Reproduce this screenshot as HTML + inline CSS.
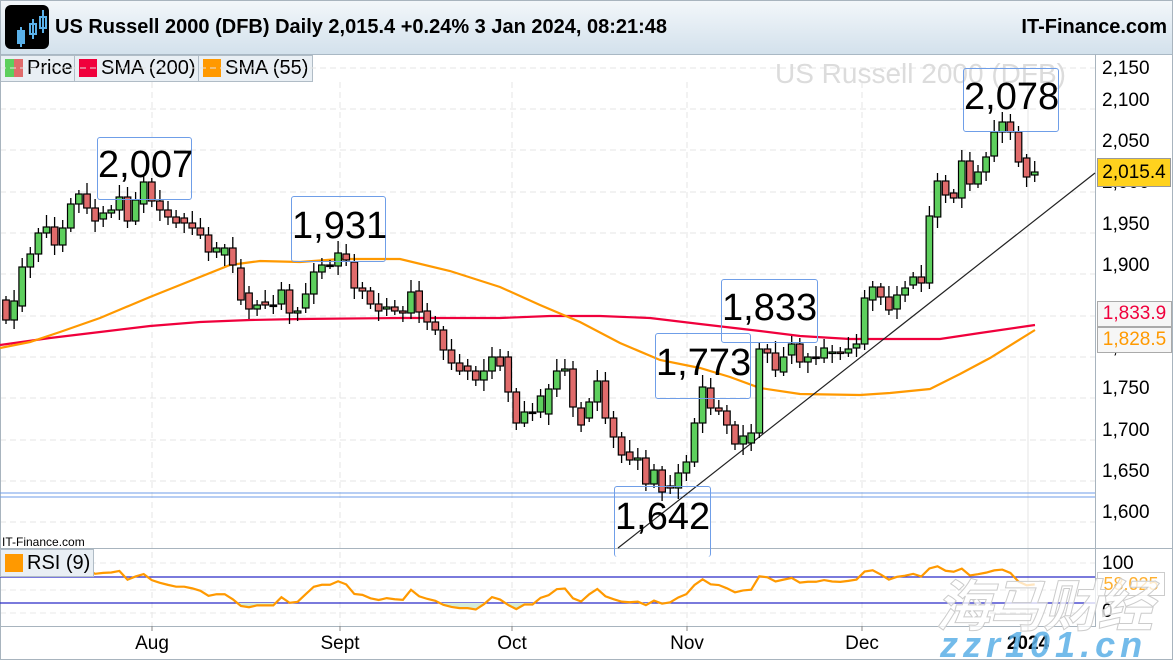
<!DOCTYPE html>
<html><head><meta charset="utf-8"><style>
body{margin:0;width:1173px;height:660px;overflow:hidden;background:#fff;font-family:"Liberation Sans",sans-serif;position:relative}
.hdr{position:absolute;left:0;top:0;width:1173px;height:54px;background:linear-gradient(#f3f7fa,#d3e1ec);border-bottom:1px solid #a9b8c4}
.lg{position:absolute;top:55px;height:25px;border:1px solid #b0bcc6;background:#e9eff4;font-size:20px;line-height:25px;color:#000}
.sw{display:inline-block;width:18px;height:18px;vertical-align:-3px;margin:0 4px 0 4px}
.box{position:absolute;border:1px solid #6f9ee8;border-radius:3px;font-size:38px;text-align:center;color:#000}
.ax{position:absolute;left:1102px;font-size:19px;color:#000}
.xl{position:absolute;top:633px;font-size:19px;transform:translateX(-50%)}
</style></head><body>
<div class="hdr">
 <div style="position:absolute;left:5px;top:5px;width:44px;height:44px;background:#000;border-radius:6px">
  <svg width="44" height="44"><g stroke="#5ab0e8" fill="none" stroke-width="2"><line x1="16" y1="22" x2="16" y2="42"/><rect x="13" y="26" width="6" height="12" fill="#5ab0e8"/><line x1="28" y1="14" x2="28" y2="34"/><rect x="25" y="19" width="6" height="10"/><line x1="38" y1="5" x2="38" y2="28"/><rect x="35" y="12" width="6" height="11"/></g></svg>
 </div>
 <div style="position:absolute;left:55px;top:16px;font-size:20px;font-weight:bold">US Russell 2000 (DFB) Daily 2,015.4 +0.24% 3 Jan 2024, 08:21:48</div>
 <div style="position:absolute;right:6px;top:16px;font-size:20px;font-weight:bold">IT-Finance.com</div>
</div>
<div class="lg" style="left:0;width:73px"><span class="sw" style="background:linear-gradient(90deg,#5dcf5d 50%,#e06b6b 50%)"></span>Price</div>
<div class="lg" style="left:74px;width:123px"><span class="sw" style="background:#f0003c"></span>SMA (200)</div>
<div class="lg" style="left:198px;width:113px"><span class="sw" style="background:#ff9900"></span>SMA (55)</div>

<svg id="ch" width="1173" height="660" style="position:absolute;left:0;top:0"></svg>

<div style="position:absolute;left:775px;top:58px;font-size:28px;color:#dcdcdc">US Russell 2000 (DFB)</div>
<div class="box" style="left:97px;top:137px;width:93px;height:61px;line-height:55px">2,007</div>
<div class="box" style="left:291px;top:196px;width:93px;height:64px;line-height:58px">1,931</div>
<div class="box" style="left:655px;top:333px;width:94px;height:64px;line-height:58px">1,773</div>
<div class="box" style="left:721px;top:279px;width:95px;height:62px;line-height:56px">1,833</div>
<div class="box" style="left:614px;top:486px;width:95px;height:70px;line-height:60px;border-bottom:none">1,642</div>
<div class="box" style="left:963px;top:68px;width:94px;height:62px;line-height:56px">2,078</div>

<div class="ax" style="top:58px">2,150</div><div class="ax" style="top:90px">2,100</div><div class="ax" style="top:131px">2,050</div>
<div class="ax" style="top:172px">2,000</div><div class="ax" style="top:214px">1,950</div><div class="ax" style="top:255px">1,900</div>
<div class="ax" style="top:337px">1,800</div><div class="ax" style="top:378px">1,750</div><div class="ax" style="top:420px">1,700</div>
<div class="ax" style="top:461px">1,650</div><div class="ax" style="top:502px">1,600</div>
<div style="position:absolute;left:1097px;top:158px;width:72px;height:27px;background:#ffd21e;border:1px solid #999;font-size:19px;line-height:27px;text-align:center">2,015.4</div>
<div style="position:absolute;left:1097px;top:301px;width:73px;height:24px;background:#f6f6f6;border:1px solid #aaa;font-size:19px;line-height:24px;text-align:center;color:#f0003c">1,833.9</div>
<div style="position:absolute;left:1097px;top:327px;width:73px;height:24px;background:#f6f6f6;border:1px solid #aaa;font-size:19px;line-height:24px;text-align:center;color:#ff9900">1,828.5</div>

<div style="position:absolute;left:2px;top:535px;font-size:12px">IT-Finance.com</div>
<div class="lg" style="left:0;top:549px;width:92px;height:26px;line-height:26px"><span class="sw" style="background:#ff9900"></span>RSI (9)</div>
<div class="ax" style="top:553px">100</div><div class="ax" style="top:601px">0</div>
<div style="position:absolute;left:1097px;top:572px;width:66px;height:22px;border:1px solid #ccc;font-size:18px;line-height:22px;color:#ffb030;text-align:center">58.025</div>

<div class="xl" style="left:152px">Aug</div><div class="xl" style="left:340px">Sept</div><div class="xl" style="left:512px">Oct</div>
<div class="xl" style="left:687px">Nov</div><div class="xl" style="left:862px">Dec</div><div class="xl" style="left:1028px;font-weight:bold">2024</div>

<div style="position:absolute;left:935px;top:562px;font-size:56px;font-style:italic;font-weight:bold;color:rgba(255,255,255,0.75);-webkit-text-stroke:1px #ccc;font-family:'Noto Sans CJK SC',sans-serif;letter-spacing:-2px">海马财经</div>
<div style="position:absolute;left:940px;top:624px;font-size:36px;font-style:italic;font-weight:bold;color:rgba(90,175,230,0.85);letter-spacing:5px">zzr101.cn</div>

<script>
var c=[
['r',300,320],['g',301,320],['g',267,306],['g',254,267],['g',233,254],['g',227,233],['r',227,245],['g',228,245],['g',204,228],['g',194,204],
['r',194,208],['r',208,221],['g',213,219],['g',210,213],['g',197,210],['r',197,221],['g',200,221],['g',182,204],['r',182,201],['r',201,210],
['r',210,217],['r',217,223],['r',218,223],['r',223,228],['r',228,235],['r',235,252],['g',248,252],['g',248,255],['r',248,265],['r',268,300],
['r',293,309],['g',305,309],['r',302,305],['d',305,305],['g',290,304],['r',290,313],['g',311,313],['g',294,308],['g',272,294],['g',265,272],
['d',265,265],['g',253,266],['r',254,260],['r',262,288],
['r',288,291],['r',291,304],['r',304,311],['g',307,309],['r',307,311],['r',311,313],['g',292,313],['r',291,312],['r',311,322],['r',322,330],
['r',330,350],['r',350,363],['r',363,371],['r',366,371],['r',371,380],['g',371,380],['g',357,371],['r',357,366],['r',357,392],['r',392,423],
['g',412,423],['d',412,412],['g',396,412],['g',389,414],['g',371,389],['g',369,371],['r',369,407],['r',408,425],['g',402,418],['g',381,402],
['r',381,418],['r',418,437],['r',437,455],['r',452,460],['g',458,460],['r',458,484],['g',470,484],['r',470,492],['r',486,488],['g',473,488],
['g',462,473],['g',423,462],
['g',387,423],['r',388,408],['r',408,411],['r',411,425],['r',425,444],['g',436,444],['g',433,443],['g',349,433],['r',349,353],['r',353,370],
['g',357,372],['g',344,355],['r',344,362],['g',357,362],['d',357,357],['g',348,358],['g',352,353],['r',352,353],['g',349,353],['g',344,348],
['g',298,344],['g',287,300],['r',287,297],['r',297,310],['g',295,309],['g',288,295],['g',277,285],['r',277,283],['g',216,283],['g',181,217],
['r',181,195],['r',193,198],['g',161,198],['r',161,184],['g',172,184],['g',157,172],['g',132,156],['g',122,132],['r',122,132],['r',132,162],
['r',158,177],['g',172,175]];
var s='';
[68,109,150,192,233,274,316,357,398,440,481,522].forEach(function(y){s+='<line x1="0" x2="1095" y1="'+y+'" y2="'+y+'" stroke="#e4e4e4" stroke-dasharray="6,4"/>';});
[152,340,512,687,862].forEach(function(x){s+='<line x1="'+x+'" x2="'+x+'" y1="82" y2="626" stroke="#e4e4e4" stroke-dasharray="6,4"/>';});
s+='<line x1="1028" x2="1028" y1="82" y2="626" stroke="#e6e6e6"/>';
[563,590,613].forEach(function(y){s+='<line x1="0" x2="1095" y1="'+y+'" y2="'+y+'" stroke="#e8e8e8" stroke-dasharray="6,4"/>';});
s+='<line x1="0" x2="1173" y1="548.5" y2="548.5" stroke="#a8b4be"/>';
s+='<line x1="0" x2="1095" y1="626.5" y2="626.5" stroke="#a8b4be"/>';
s+='<line x1="1095.5" x2="1095.5" y1="54" y2="627" stroke="#a8b4be"/>';
s+='<rect x="0.5" y="0.5" width="1172" height="659" fill="none" stroke="#a8b4be"/>';
[152,340,512,687,862,1028].forEach(function(x){s+='<line x1="'+x+'" x2="'+x+'" y1="626" y2="631" stroke="#888"/>';});
s+='<line x1="0" x2="1095" y1="493" y2="493" stroke="#6f9ee8"/><line x1="0" x2="1095" y1="497" y2="497" stroke="#6f9ee8"/>';
var r200=[[0,345],[50,338],[100,332],[150,326],[200,322],[250,320],[300,319],[400,318],[500,318],[550,316],[600,316],[650,318],[700,324],[760,331],[800,336],[850,339],[940,339],[980,333],[1035,325]];
var o55=[[0,348],[30,342],[60,332],[100,318],[150,297],[180,285],[230,265],[260,261],[300,262],[340,259],[400,259],[450,271],[500,287],[540,305],[580,322],[620,343],[660,360],[700,368],[730,377],[760,388],[800,394],[860,395],[890,393],[930,389],[960,374],[990,358],[1035,330]];
function pl(a,col){return '<polyline fill="none" stroke="'+col+'" stroke-width="2.2" points="'+a.map(function(p){return p.join(',')}).join(' ')+'"/>';}
s+=pl(r200,'#f0003c')+pl(o55,'#ff9900');
s+='<line x1="618" y1="548" x2="1095" y2="173" stroke="#222" stroke-width="1.2"/>';
var closes=[];
c.forEach(function(k,i){
 var x=6+i*8.1, t=k[1], b=k[2]; var h=4+((i*7)%9), l=4+((i*5)%8);
 s+='<line x1="'+x+'" x2="'+x+'" y1="'+(t-h)+'" y2="'+(b+l)+'" stroke="#000" stroke-width="1.3"/>';
 var fill=k[0]=='g'?'#5dcf5d':(k[0]=='r'?'#e06b6b':'#000');
 var hh=Math.max(b-t,1.5);
 s+='<rect x="'+(x-3.3)+'" y="'+t+'" width="6.6" height="'+hh+'" fill="'+fill+'" stroke="#000" stroke-width="1.2"/>';
 closes.push(2150-((k[0]=='r'?b:t)-68)/0.8255);
});
var n=9,ag=0,al=0,rsi=[];
for(var i=1;i<closes.length;i++){var d=closes[i]-closes[i-1],g=Math.max(d,0),lo=Math.max(-d,0);
 if(i<=n){ag+=g/n;al+=lo/n;}else{ag=(ag*(n-1)+g)/n;al=(al*(n-1)+lo)/n;}
 rsi.push(al==0?100:100-100/(1+ag/al));}
var pts=[];rsi.forEach(function(v,i){if(i>=3){var x=6+(i+1)*8.1;pts.push([x,622-0.65*v]);}});
pts.unshift([0,pts[0][1]]);
s+='<line x1="0" x2="1095" y1="577" y2="577" stroke="#2a2ac8" stroke-width="1.2"/><line x1="0" x2="1095" y1="603" y2="603" stroke="#2a2ac8" stroke-width="1.2"/>';
s+='<clipPath id="cl"><rect x="0" y="603" width="1095" height="30"/></clipPath>';
s+='<polygon clip-path="url(#cl)" fill="#d6ecd6" points="0,603 '+pts.map(function(p){return p.join(',')}).join(' ')+' '+pts[pts.length-1][0]+',603"/>';
s+=pl(pts,'#ff9900');
document.getElementById('ch').innerHTML=s;
</script>
</body></html>
